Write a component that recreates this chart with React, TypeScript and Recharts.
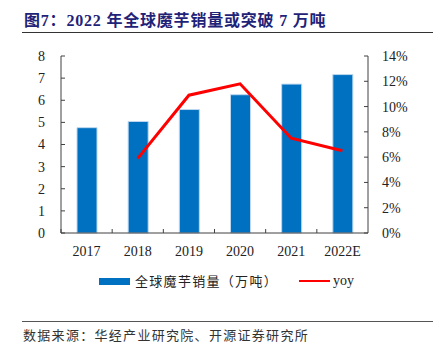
import { ComposedChart, Bar, Line, XAxis, YAxis } from 'recharts';

const categories = ['2017', '2018', '2019', '2020', '2021', '2022E'];
const sales = [4.76, 5.04, 5.58, 6.25, 6.73, 7.16];
const yoy = [null, 5.9, 10.9, 11.8, 7.5, 6.5];
const leftTicks = [0, 1, 2, 3, 4, 5, 6, 7, 8];
const rightTicks = [0, 2, 4, 6, 8, 10, 12, 14];

const data = categories.map((year, i) => ({ year, sales: sales[i], yoy: yoy[i] }));

const FONT = '"Liberation Serif", "Noto Sans CJK SC", serif';
const CJK = '"Noto Sans CJK SC", sans-serif';
const BLUE = '#0070C0';
const RED = '#FF0000';
const AXIS = '#404040';
const X_MARGIN = 13;

function YearTick(props: any) {
  const { x, y, payload } = props;
  const edge = x - (payload.offset || 0);
  const base = y - X_MARGIN;
  return (
    <g>
      <line x1={edge} y1={base} x2={edge} y2={base - 4} stroke={AXIS} />
      <text x={x} y={y} dy="0.71em" textAnchor="middle" fontSize={14} fontFamily={FONT} fill="#222">
        {payload.value}
      </text>
    </g>
  );
}

export default function App() {
  return (
    <div style={{ position: 'absolute', left: 0, top: 0, width: 438, height: 353, background: '#fff', fontFamily: FONT }}>
      <div style={{ position: 'absolute', left: 24, top: 7, fontSize: 16, fontWeight: 'bold', color: '#1F2378', letterSpacing: 0.8, whiteSpace: 'nowrap' }}>
        图7：2022 年全球魔芋销量或突破 7 万吨
      </div>
      <div style={{ position: 'absolute', left: 22, top: 32, width: 411, height: 1, background: '#333' }} />

      <div style={{ position: 'absolute', left: 0, top: 0 }}>
        <ComposedChart width={438} height={270} data={data} margin={{ top: 56, right: 10, left: 21, bottom: 7 }}>
          <XAxis
            dataKey="year"
            xAxisId="x"
            height={30}
            stroke={AXIS}
            tickLine={false}
            tickSize={0}
            tickMargin={X_MARGIN}
            tick={<YearTick />}
            interval={0}
          />
          <YAxis
            yAxisId="left"
            orientation="left"
            width={40}
            domain={[0, 8]}
            ticks={leftTicks}
            stroke={AXIS}
            tickSize={-4}
            tickMargin={20}
            tick={{ fontSize: 14, fontFamily: FONT, fill: '#222' }}
          />
          <YAxis
            yAxisId="right"
            orientation="right"
            width={60}
            domain={[0, 14]}
            ticks={rightTicks}
            stroke={AXIS}
            tickSize={-4}
            tickMargin={18}
            tickFormatter={(v: number) => `${v}%`}
            tick={{ fontSize: 14, fontFamily: FONT, fill: '#222', textAnchor: 'start' }}
          />
          <Bar
            dataKey="sales"
            xAxisId="x"
            yAxisId="left"
            fill={BLUE}
            stroke="#BDD7EE"
            strokeWidth={1}
            barSize={20}
            isAnimationActive={false}
          />
          <Line
            dataKey="yoy"
            xAxisId="x"
            yAxisId="right"
            type="linear"
            stroke={RED}
            strokeWidth={3}
            dot={false}
            activeDot={false}
            connectNulls={false}
            isAnimationActive={false}
          />
        </ComposedChart>
      </div>

      <div style={{ position: 'absolute', top: 272, left: 0, width: 438, height: 18, fontSize: 13 }}>
        <div style={{ position: 'absolute', left: 99, top: 6, width: 31, height: 7, background: BLUE }} />
        <div style={{ position: 'absolute', left: 135, top: 0, fontFamily: CJK, letterSpacing: 1.3, color: '#222', whiteSpace: 'nowrap', lineHeight: '18px' }}>
          全球魔芋销量（万吨）
        </div>
        <div style={{ position: 'absolute', left: 299, top: 8, width: 31, height: 2, background: RED }} />
        <div style={{ position: 'absolute', left: 333, top: 0, fontSize: 14, color: '#222', lineHeight: '18px' }}>yoy</div>
      </div>

      <div style={{ position: 'absolute', left: 22, top: 321, width: 411, height: 1, background: '#555' }} />
      <div style={{ position: 'absolute', left: 23, top: 326, fontFamily: CJK, fontSize: 13, letterSpacing: 1.3, color: '#333', whiteSpace: 'nowrap', lineHeight: '18px' }}>
        数据来源：华经产业研究院、开源证券研究所
      </div>
    </div>
  );
}
